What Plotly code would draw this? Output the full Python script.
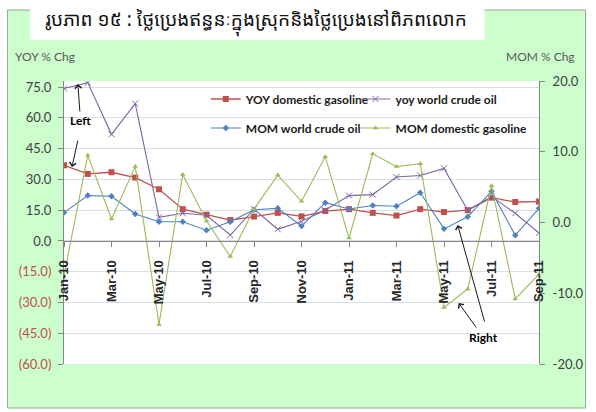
import plotly.graph_objects as go

months = ['Jan-10', 'Feb-10', 'Mar-10', 'Apr-10', 'May-10', 'Jun-10', 'Jul-10', 'Aug-10', 'Sep-10',
          'Oct-10', 'Nov-10', 'Dec-10', 'Jan-11', 'Feb-11', 'Mar-11', 'Apr-11', 'May-11', 'Jun-11',
          'Jul-11', 'Aug-11', 'Sep-11']

# left axis (YOY % chg)
yoy_domestic_gasoline = [36.9, 32.7, 33.5, 30.9, 25.2, 15.5, 12.8, 10.2, 11.9, 13.7, 12.0,
                         14.6, 15.5, 13.7, 12.4, 15.5, 14.1, 15.0, 21.1, 19.0, 19.2]
yoy_world_crude = [74.3, 77.2, 52.0, 67.0, 11.5, 13.5, 12.5, 2.9, 15.5, 5.7, 9.6,
                   15.0, 22.1, 22.6, 31.2, 31.9, 35.4, 15.0, 21.6, 13.5, 3.9]
# right axis (MOM % chg)
mom_world_crude = [1.4, 3.8, 3.7, 1.2, 0.1, 0.1, -1.1, 0.1, 1.8, 2.0, -0.5,
                   2.8, 1.9, 2.4, 2.3, 4.2, -0.9, 0.8, 4.4, -1.8, 2.0]
mom_domestic_gasoline = [-7.5, 9.5, 0.5, 7.9, -14.4, 6.8, 0.2, -4.8, 1.9, 6.7, 3.0,
                         9.3, -2.2, 9.7, 7.9, 8.3, -12.0, -9.4, 5.2, -10.8, -7.3]

left_ticks = [-60, -45, -30, -15, 0, 15, 30, 45, 60, 75]
left_text = [f"<span style='color:#c0504d'>({abs(v):.1f})</span>" if v < 0 else f"{v:.1f}"
             for v in left_ticks]
right_ticks = [-20, -10, 0, 10, 20]
right_text = [f"{v:.1f}" for v in right_ticks]

idx = list(range(len(months)))

W, H = 596, 412
L, R, T, B = 64, 543, 81, 364


def px(x):
    return (x - L) / (R - L)


def py(y):
    return (B - y) / (B - T)


fig = go.Figure()
fig.add_trace(go.Scatter(x=idx, y=yoy_domestic_gasoline, name='YOY domestic gasoline',
                         mode='lines+markers', line=dict(color='#c0504d', width=1.3),
                         marker=dict(symbol='square', size=6, color='#c0504d'), legend='legend'))
fig.add_trace(go.Scatter(x=idx, y=yoy_world_crude, name='yoy world crude oil',
                         mode='lines+markers', line=dict(color='#8064a2', width=1.1),
                         marker=dict(symbol='x-thin', size=6, line=dict(color='#8064a2', width=1)),
                         legend='legend2'))
fig.add_trace(go.Scatter(x=idx, y=mom_world_crude, name='MOM world crude oil', yaxis='y2',
                         mode='lines+markers', line=dict(color='#4f81bd', width=1.1),
                         marker=dict(symbol='diamond', size=5, color='#4f81bd'), legend='legend3'))
fig.add_trace(go.Scatter(x=idx, y=mom_domestic_gasoline, name='MOM domestic gasoline', yaxis='y2',
                         mode='lines+markers', line=dict(color='#9bbb59', width=1.1),
                         marker=dict(symbol='triangle-up', size=5, color='#9bbb59'), legend='legend4'))

legfont = dict(family='Lato, Open Sans, sans-serif', size=12, color='#1a1a1a', weight='bold')


def leg(xp, yp):
    return dict(x=px(xp), y=py(yp), xanchor='left', yanchor='middle',
                bgcolor='rgba(0,0,0,0)', font=legfont, itemwidth=30)


# green card behind the chart and white title box
shapes = [
    dict(type='rect', xref='paper', yref='paper', x0=px(7), x1=px(590), y0=py(408), y1=py(10),
         fillcolor='#ccffcc', line=dict(color='#9aa39a', width=1), layer='below'),
    dict(type='rect', xref='paper', yref='paper', x0=px(30), x1=px(488), y0=py(40), y1=py(0),
         fillcolor='white', line=dict(width=0), layer='below'),
    dict(type='rect', xref='paper', yref='paper', x0=0, x1=1, y0=0, y1=1,
         fillcolor='white', line=dict(width=0), layer='below'),
]


def label(text, x, y, font, xanchor='center'):
    return dict(text=text, x=px(x), y=py(y), xref='paper', yref='paper', showarrow=False,
                xanchor=xanchor, yanchor='middle', font=font)


annfont = dict(family='Lato, Open Sans, sans-serif', size=12, color='#000000', weight='bold')
axtitle_font = dict(family='Lato, sans-serif', size=12, color='#595959')
annotations = [
    label('រូបភាព ១៥ : ថ្លៃប្រេងឥន្ធនៈក្នុងស្រុកនិងថ្លៃប្រេងនៅពិភពលោក', 258, 21,
          dict(family='Noto Sans Khmer, Khmer OS, Noto Serif Khmer, sans-serif', size=19,
               color='#111111')),
    label('YOY % Chg', 13, 56, axtitle_font, 'left'),
    label('MOM % Chg', 581, 56, axtitle_font, 'right'),
    label('Left', 81, 120, annfont),
    label('Right', 487, 337, annfont),
]
# pointer arrows: head (hx, hy) -> tail (tx, ty) in pixels
for hx, hy, tx, ty in [(78, 84, 80, 112), (72, 167, 78, 140), (461, 225, 488, 322), (462, 303, 480, 328)]:
    annotations.append(dict(text='', x=px(hx), y=py(hy), xref='paper', yref='paper', showarrow=True,
                            ax=tx - hx, ay=ty - hy, arrowhead=4, arrowsize=1.3, arrowwidth=1,
                            arrowcolor='#1a1a1a', borderpad=0, font=dict(size=1)))

axis_color = '#868686'
tickfont = dict(family='Lato, Open Sans, sans-serif', size=13, color='#404040')

fig.update_layout(
    width=W, height=H,
    margin=dict(l=L, r=W - R, t=T, b=H - B),
    paper_bgcolor='white', plot_bgcolor='rgba(0,0,0,0)',
    showlegend=True,
    shapes=shapes, annotations=annotations,
    legend=leg(207, 99), legend2=leg(358, 99),
    legend3=leg(207, 128), legend4=leg(358, 128),
    xaxis=dict(range=[0, 20], tickvals=idx[::2], ticktext=months[::2], anchor='free',
               position=60 / 138, showline=True, linecolor=axis_color, linewidth=1,
               ticks='outside', ticklen=5, tickcolor=axis_color, tickangle=-90,
               ticklabelstandoff=8, showgrid=False, zeroline=False,
               tickfont=dict(family='Liberation Sans, Arial, sans-serif', size=13,
                             color='#262626', weight='bold')),
    yaxis=dict(range=[-60, 78], tickvals=left_ticks, ticktext=left_text, showgrid=True,
               gridcolor='#d6dfe8', gridwidth=1, zeroline=False, showline=True,
               linecolor=axis_color, ticks='outside', ticklen=5, tickcolor=axis_color,
               tickfont=tickfont, ticklabelstandoff=4),
    yaxis2=dict(range=[-20, 20], tickvals=right_ticks, ticktext=right_text, overlaying='y',
                side='right', showgrid=False, zeroline=False, showline=True,
                linecolor=axis_color, ticks='outside', ticklen=5, tickcolor=axis_color,
                tickfont=tickfont, ticklabelstandoff=5),
)

fig.write_html("out.html", config={'displayModeBar': False},
               post_script="document.body.style.margin='0';")
